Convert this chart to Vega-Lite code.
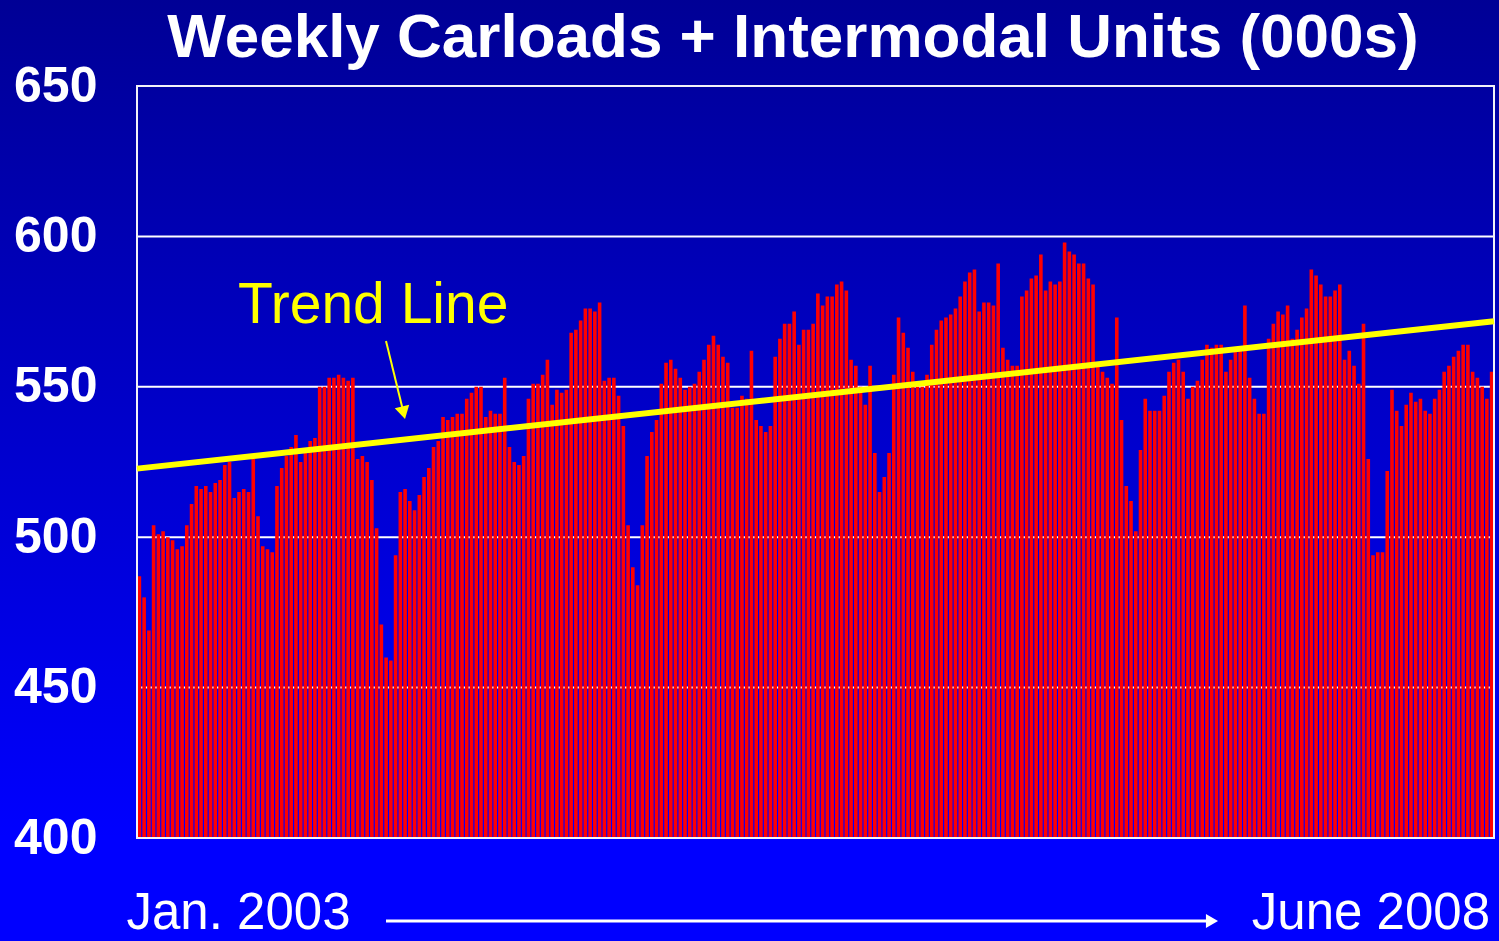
{
  "$schema": "https://vega.github.io/schema/vega-lite/v6.json",
  "width": 1357,
  "height": 752,
  "autosize": "none",
  "padding": {"left": 137, "top": 86, "right": 5, "bottom": 103},
  "background": "#0000cc",
  "config": {
    "view": {"stroke": null},
    "font": "Liberation Sans"
  },
  "datasets": {
    "bars": [
      {"w":1,"v":487},{"w":2,"v":480},{"w":3,"v":469},{"w":4,"v":504},{"w":5,"v":501},{"w":6,"v":502},{"w":7,"v":500},{"w":8,"v":499},{"w":9,"v":496},{"w":10,"v":497},
      {"w":11,"v":504},{"w":12,"v":511},{"w":13,"v":517},{"w":14,"v":516},{"w":15,"v":517},{"w":16,"v":515},{"w":17,"v":518},{"w":18,"v":519},{"w":19,"v":524},{"w":20,"v":525},
      {"w":21,"v":513},{"w":22,"v":515},{"w":23,"v":516},{"w":24,"v":515},{"w":25,"v":526},{"w":26,"v":507},{"w":27,"v":497},{"w":28,"v":496},{"w":29,"v":495},{"w":30,"v":517},
      {"w":31,"v":523},{"w":32,"v":527},{"w":33,"v":530},{"w":34,"v":534},{"w":35,"v":525},{"w":36,"v":528},{"w":37,"v":532},{"w":38,"v":533},{"w":39,"v":550},{"w":40,"v":550},
      {"w":41,"v":553},{"w":42,"v":553},{"w":43,"v":554},{"w":44,"v":553},{"w":45,"v":552},{"w":46,"v":553},{"w":47,"v":526},{"w":48,"v":527},{"w":49,"v":525},{"w":50,"v":519},
      {"w":51,"v":503},{"w":52,"v":471},{"w":53,"v":460},{"w":54,"v":459},{"w":55,"v":494},{"w":56,"v":515},{"w":57,"v":516},{"w":58,"v":512},{"w":59,"v":509},{"w":60,"v":514},
      {"w":61,"v":520},{"w":62,"v":523},{"w":63,"v":530},{"w":64,"v":532},{"w":65,"v":540},{"w":66,"v":539},{"w":67,"v":540},{"w":68,"v":541},{"w":69,"v":541},{"w":70,"v":546},
      {"w":71,"v":548},{"w":72,"v":550},{"w":73,"v":550},{"w":74,"v":540},{"w":75,"v":542},{"w":76,"v":541},{"w":77,"v":541},{"w":78,"v":553},{"w":79,"v":530},{"w":80,"v":525},
      {"w":81,"v":524},{"w":82,"v":527},{"w":83,"v":546},{"w":84,"v":551},{"w":85,"v":551},{"w":86,"v":554},{"w":87,"v":559},{"w":88,"v":544},{"w":89,"v":549},{"w":90,"v":548},
      {"w":91,"v":549},{"w":92,"v":568},{"w":93,"v":569},{"w":94,"v":572},{"w":95,"v":576},{"w":96,"v":576},{"w":97,"v":575},{"w":98,"v":578},{"w":99,"v":552},{"w":100,"v":553},
      {"w":101,"v":553},{"w":102,"v":547},{"w":103,"v":537},{"w":104,"v":504},{"w":105,"v":490},{"w":106,"v":484},{"w":107,"v":504},{"w":108,"v":527},{"w":109,"v":535},{"w":110,"v":539},
      {"w":111,"v":551},{"w":112,"v":558},{"w":113,"v":559},{"w":114,"v":556},{"w":115,"v":553},{"w":116,"v":549},{"w":117,"v":550},{"w":118,"v":551},{"w":119,"v":555},{"w":120,"v":559},
      {"w":121,"v":564},{"w":122,"v":567},{"w":123,"v":564},{"w":124,"v":560},{"w":125,"v":558},{"w":126,"v":543},{"w":127,"v":543},{"w":128,"v":547},{"w":129,"v":546},{"w":130,"v":562},
      {"w":131,"v":539},{"w":132,"v":537},{"w":133,"v":535},{"w":134,"v":537},{"w":135,"v":560},{"w":136,"v":566},{"w":137,"v":571},{"w":138,"v":571},{"w":139,"v":575},{"w":140,"v":564},
      {"w":141,"v":569},{"w":142,"v":569},{"w":143,"v":571},{"w":144,"v":581},{"w":145,"v":577},{"w":146,"v":580},{"w":147,"v":580},{"w":148,"v":584},{"w":149,"v":585},{"w":150,"v":582},
      {"w":151,"v":559},{"w":152,"v":557},{"w":153,"v":550},{"w":154,"v":544},{"w":155,"v":557},{"w":156,"v":528},{"w":157,"v":515},{"w":158,"v":520},{"w":159,"v":528},{"w":160,"v":554},
      {"w":161,"v":573},{"w":162,"v":568},{"w":163,"v":563},{"w":164,"v":555},{"w":165,"v":550},{"w":166,"v":550},{"w":167,"v":554},{"w":168,"v":564},{"w":169,"v":569},{"w":170,"v":572},
      {"w":171,"v":573},{"w":172,"v":574},{"w":173,"v":576},{"w":174,"v":580},{"w":175,"v":585},{"w":176,"v":588},{"w":177,"v":589},{"w":178,"v":575},{"w":179,"v":578},{"w":180,"v":578},
      {"w":181,"v":577},{"w":182,"v":591},{"w":183,"v":563},{"w":184,"v":559},{"w":185,"v":557},{"w":186,"v":557},{"w":187,"v":580},{"w":188,"v":582},{"w":189,"v":586},{"w":190,"v":587},
      {"w":191,"v":594},{"w":192,"v":582},{"w":193,"v":585},{"w":194,"v":584},{"w":195,"v":585},{"w":196,"v":598},{"w":197,"v":595},{"w":198,"v":594},{"w":199,"v":591},{"w":200,"v":591},
      {"w":201,"v":586},{"w":202,"v":584},{"w":203,"v":557},{"w":204,"v":555},{"w":205,"v":553},{"w":206,"v":551},{"w":207,"v":573},{"w":208,"v":539},{"w":209,"v":517},{"w":210,"v":512},
      {"w":211,"v":502},{"w":212,"v":529},{"w":213,"v":546},{"w":214,"v":542},{"w":215,"v":542},{"w":216,"v":542},{"w":217,"v":547},{"w":218,"v":555},{"w":219,"v":558},{"w":220,"v":559},
      {"w":221,"v":555},{"w":222,"v":546},{"w":223,"v":550},{"w":224,"v":552},{"w":225,"v":559},{"w":226,"v":564},{"w":227,"v":563},{"w":228,"v":564},{"w":229,"v":564},{"w":230,"v":555},
      {"w":231,"v":559},{"w":232,"v":562},{"w":233,"v":562},{"w":234,"v":577},{"w":235,"v":553},{"w":236,"v":546},{"w":237,"v":541},{"w":238,"v":541},{"w":239,"v":566},{"w":240,"v":571},
      {"w":241,"v":575},{"w":242,"v":574},{"w":243,"v":577},{"w":244,"v":566},{"w":245,"v":569},{"w":246,"v":573},{"w":247,"v":576},{"w":248,"v":589},{"w":249,"v":587},{"w":250,"v":584},
      {"w":251,"v":580},{"w":252,"v":580},{"w":253,"v":582},{"w":254,"v":584},{"w":255,"v":559},{"w":256,"v":562},{"w":257,"v":557},{"w":258,"v":551},{"w":259,"v":571},{"w":260,"v":526},
      {"w":261,"v":494},{"w":262,"v":495},{"w":263,"v":495},{"w":264,"v":522},{"w":265,"v":549},{"w":266,"v":542},{"w":267,"v":537},{"w":268,"v":544},{"w":269,"v":548},{"w":270,"v":545},
      {"w":271,"v":546},{"w":272,"v":542},{"w":273,"v":541},{"w":274,"v":546},{"w":275,"v":549},{"w":276,"v":555},{"w":277,"v":557},{"w":278,"v":560},{"w":279,"v":562},{"w":280,"v":564},
      {"w":281,"v":564},{"w":282,"v":555},{"w":283,"v":553},{"w":284,"v":550},{"w":285,"v":546},{"w":286,"v":555}
    ],
    "trend": [{"w": 0.5, "v": 522.8}, {"w": 286.5, "v": 571.8}],
    "grid": [{"g": 450}, {"g": 500}, {"g": 550}, {"g": 600}],
    "one": [{"label": ""}]
  },
  "layer": [
    {
      "data": {"name": "one"},
      "mark": {"type": "rect", "clip": false,
        "color": {"gradient": "linear", "x1": 0, "y1": 0, "x2": 0, "y2": 1,
          "stops": [{"offset": 0, "color": "#000094"}, {"offset": 0.88, "color": "#0000ff"}, {"offset": 1, "color": "#0000ff"}]}},
      "encoding": {
        "x": {"datum": -30, "type": "quantitative", "scale": {"domain": [0.5, 286.5], "nice": false, "zero": false, "padding": 0}, "axis": null},
        "x2": {"datum": 290},
        "y": {"datum": 682, "type": "quantitative", "scale": {"domain": [400, 650], "nice": false, "zero": false}, "title": null},
        "y2": {"datum": 362}
      }
    },
    {
      "data": {"name": "grid"},
      "mark": {"type": "rule", "color": "#ffffff", "strokeWidth": 2},
      "encoding": {
        "y": {"field": "g", "type": "quantitative", "scale": {"domain": [400, 650], "nice": false, "zero": false}, "title": null}
      }
    },
    {
      "data": {"name": "bars"},
      "mark": {"type": "bar", "color": "#ff0000", "width": 3.6},
      "encoding": {
        "x": {"field": "w", "type": "quantitative", "scale": {"domain": [0.5, 286.5], "nice": false, "zero": false, "padding": 0}, "axis": null},
        "y": {"field": "v", "type": "quantitative", "scale": {"domain": [400, 650], "nice": false, "zero": false},
          "axis": {"values": [400, 450, 500, 550, 600, 650], "title": null, "zindex": 1,
            "domain": false, "ticks": false, "grid": false,
            "labelFont": "Liberation Sans", "labelFontSize": 50, "labelFontWeight": "bold",
            "labelColor": "#ffffff", "labelPadding": 40, "labelFlush": false, "labelOverlap": false,
            "labelBaseline": "middle"}},
        "y2": {"datum": 400}
      }
    },
    {
      "data": {"name": "one"},
      "mark": {"type": "rect", "fill": "transparent", "stroke": "#f2f2f8", "strokeWidth": 2, "clip": false},
      "encoding": {
        "x": {"datum": 0.5, "type": "quantitative", "scale": {"domain": [0.5, 286.5], "nice": false, "zero": false, "padding": 0}, "axis": null},
        "x2": {"datum": 286.5},
        "y": {"datum": 400, "type": "quantitative", "scale": {"domain": [400, 650], "nice": false, "zero": false}, "title": null},
        "y2": {"datum": 650}
      }
    },
    {
      "data": {"name": "trend"},
      "mark": {"type": "line", "color": "#ffff00", "strokeWidth": 6},
      "encoding": {
        "x": {"field": "w", "type": "quantitative", "scale": {"domain": [0.5, 286.5], "nice": false, "zero": false, "padding": 0}, "axis": null},
        "y": {"field": "v", "type": "quantitative", "scale": {"domain": [400, 650], "nice": false, "zero": false}, "title": null}
      }
    },
    {
      "data": {"name": "one"},
      "mark": {"type": "rule", "color": "#ffff00", "strokeWidth": 2, "clip": false},
      "encoding": {
        "x": {"datum": 52.98, "type": "quantitative", "scale": {"domain": [0.5, 286.5], "nice": false, "zero": false, "padding": 0}, "axis": null},
        "x2": {"datum": 56.5},
        "y": {"datum": 565.2, "type": "quantitative", "scale": {"domain": [400, 650], "nice": false, "zero": false}, "title": null},
        "y2": {"datum": 542.5}
      }
    },
    {
      "data": {"name": "one"},
      "mark": {"type": "point", "shape": "triangle-down", "filled": true, "color": "#ffff00", "opacity": 1, "size": 220, "angle": 346.3, "clip": false},
      "encoding": {
        "x": {"datum": 56.67, "type": "quantitative", "scale": {"domain": [0.5, 286.5], "nice": false, "zero": false, "padding": 0}, "axis": null},
        "y": {"datum": 541.35, "type": "quantitative", "scale": {"domain": [400, 650], "nice": false, "zero": false}, "title": null}
      }
    },
    {
      "data": {"values": [{"label": "Trend Line"}]},
      "mark": {"type": "text", "align": "left", "baseline": "alphabetic", "font": "Liberation Sans", "fontSize": 57, "color": "#ffff00", "clip": false},
      "encoding": {
        "x": {"datum": 21.79, "type": "quantitative", "scale": {"domain": [0.5, 286.5], "nice": false, "zero": false, "padding": 0}, "axis": null},
        "y": {"datum": 571.2, "type": "quantitative", "scale": {"domain": [400, 650], "nice": false, "zero": false}, "title": null},
        "text": {"field": "label"}
      }
    },
    {
      "data": {"values": [{"label": "Weekly Carloads + Intermodal Units (000s)"}]},
      "mark": {"type": "text", "align": "center", "baseline": "alphabetic", "font": "Liberation Sans", "fontSize": 62, "fontWeight": "bold", "color": "#ffffff", "clip": false},
      "encoding": {
        "x": {"datum": 138.75, "type": "quantitative", "scale": {"domain": [0.5, 286.5], "nice": false, "zero": false, "padding": 0}, "axis": null},
        "y": {"datum": 659.5, "type": "quantitative", "scale": {"domain": [400, 650], "nice": false, "zero": false}, "title": null},
        "text": {"field": "label"}
      }
    },
    {
      "data": {"name": "one"},
      "mark": {"type": "rule", "color": "#ffffff", "strokeWidth": 3, "clip": false},
      "encoding": {
        "x": {"datum": 52.98, "type": "quantitative", "scale": {"domain": [0.5, 286.5], "nice": false, "zero": false, "padding": 0}, "axis": null},
        "x2": {"datum": 226.6},
        "y": {"datum": 372.4, "type": "quantitative", "scale": {"domain": [400, 650], "nice": false, "zero": false}, "title": null}
      }
    },
    {
      "data": {"name": "one"},
      "mark": {"type": "point", "shape": "triangle-right", "filled": true, "color": "#ffffff", "opacity": 1, "size": 196, "clip": false},
      "encoding": {
        "x": {"datum": 227.06, "type": "quantitative", "scale": {"domain": [0.5, 286.5], "nice": false, "zero": false, "padding": 0}, "axis": null},
        "y": {"datum": 372.4, "type": "quantitative", "scale": {"domain": [400, 650], "nice": false, "zero": false}, "title": null}
      }
    },
    {
      "data": {"values": [{"label": "Jan. 2003"}]},
      "mark": {"type": "text", "align": "center", "baseline": "alphabetic", "font": "Liberation Sans", "fontSize": 51, "color": "#ffffff", "clip": false},
      "encoding": {
        "x": {"datum": 21.89, "type": "quantitative", "scale": {"domain": [0.5, 286.5], "nice": false, "zero": false, "padding": 0}, "axis": null},
        "y": {"datum": 369.9, "type": "quantitative", "scale": {"domain": [400, 650], "nice": false, "zero": false}, "title": null},
        "text": {"field": "label"}
      }
    },
    {
      "data": {"values": [{"label": "June 2008"}]},
      "mark": {"type": "text", "align": "center", "baseline": "alphabetic", "font": "Liberation Sans", "fontSize": 51, "color": "#ffffff", "clip": false},
      "encoding": {
        "x": {"datum": 260.57, "type": "quantitative", "scale": {"domain": [0.5, 286.5], "nice": false, "zero": false, "padding": 0}, "axis": null},
        "y": {"datum": 369.9, "type": "quantitative", "scale": {"domain": [400, 650], "nice": false, "zero": false}, "title": null},
        "text": {"field": "label"}
      }
    }
  ]
}
